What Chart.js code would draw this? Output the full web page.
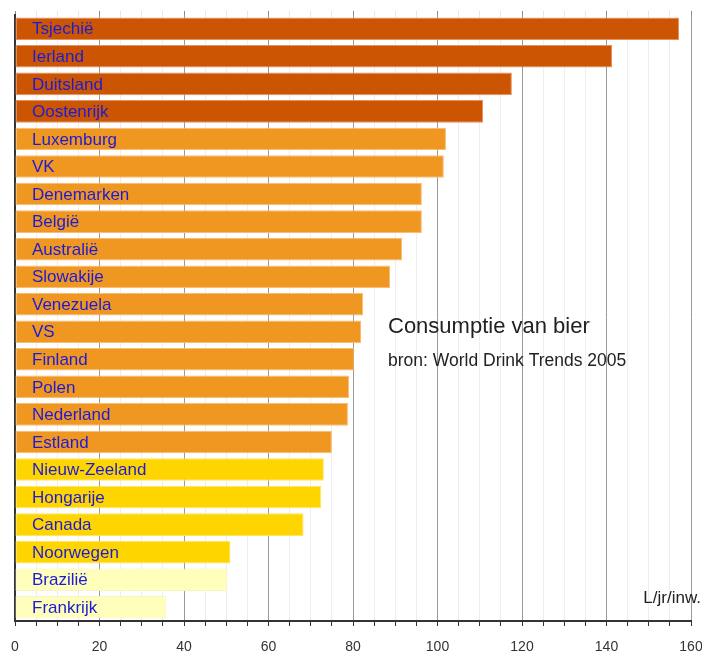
<!DOCTYPE html>
<html>
<head>
<meta charset="utf-8">
<script src="https://cdn.jsdelivr.net/npm/chart.js@4/dist/chart.umd.min.js"></script>
<style>
  html, body { margin: 0; padding: 0; background: #fff; }
  #wrap { width: 702px; height: 653px; position: relative; }
</style>
</head>
<body>
<div id="wrap"><canvas id="chart" width="702" height="653"></canvas></div>
<script>
// ── Data ──────────────────────────────────────────────
const countries = [
  'Tsjechië', 'Ierland', 'Duitsland', 'Oostenrijk', 'Luxemburg', 'VK',
  'Denemarken', 'België', 'Australië', 'Slowakije', 'Venezuela', 'VS',
  'Finland', 'Polen', 'Nederland', 'Estland', 'Nieuw-Zeeland', 'Hongarije',
  'Canada', 'Noorwegen', 'Brazilië', 'Frankrijk',
];
const litres = [
  157.2, 141.3, 117.6, 110.8, 102.0, 101.5,
  96.3, 96.3, 91.6, 88.8, 82.4, 81.9,
  80.3, 79.1, 78.8, 75.0, 73.1, 72.5,
  68.3, 51.0, 50.3, 35.8,
];
// colour group per country: 0 = top, 1 = high, 2 = mid, 3 = low
const groups = [0, 0, 0, 0, 1, 1, 1, 1, 1, 1, 1, 1, 1, 1, 1, 1, 2, 2, 2, 2, 3, 3];
const xTicks = [0, 20, 40, 60, 80, 100, 120, 140, 160];

const title = 'Consumptie van bier';
const source = 'bron: World Drink Trends 2005';
const unit = 'L/jr/inw.';

// ── Styling ───────────────────────────────────────────
const FONT = '"Liberation Sans", Arial, sans-serif';
const FILL = ['#cc5503', '#f09722', '#ffd500', '#ffffbb'];
const EDGE = ['#e2925e', '#f6bd74', '#ffe366', '#f4f4cc'];

const isMajor = v => xTicks.includes(v);

// labels inside the bars + the annotation text
const textPlugin = {
  id: 'beerText',
  afterDatasetsDraw(chart) {
    const { ctx, chartArea } = chart;
    const meta = chart.getDatasetMeta(0);
    ctx.save();
    ctx.font = '17px ' + FONT;
    ctx.fillStyle = '#1c1cd4';
    ctx.textBaseline = 'middle';
    ctx.textAlign = 'left';
    meta.data.forEach((bar, i) => {
      ctx.fillText(countries[i], chartArea.left + 17, bar.y + 1);
    });

    ctx.fillStyle = '#222';
    ctx.textBaseline = 'alphabetic';
    ctx.font = '22px ' + FONT;
    ctx.fillText(title, 388, 333);
    ctx.font = '17.5px ' + FONT;
    ctx.fillText(source, 388, 366);

    ctx.textAlign = 'right';
    ctx.font = '17px ' + FONT;
    ctx.fillText(unit, 701, 603);
    ctx.restore();
  },
};

new Chart(document.getElementById('chart'), {
  type: 'bar',
  data: {
    labels: countries,
    datasets: [{
      data: litres,
      backgroundColor: groups.map(g => FILL[g]),
      borderColor: groups.map(g => EDGE[g]),
      borderWidth: 1,
      borderSkipped: false,
      categoryPercentage: 1,
      barPercentage: 0.82,
    }],
  },
  options: {
    indexAxis: 'y',
    responsive: false,
    animation: false,
    layout: { padding: { left: 0, right: 11, top: 0, bottom: 0 } },
    plugins: { legend: { display: false }, tooltip: { enabled: false } },
    scales: {
      x: {
        position: 'bottom',
        min: 0,
        max: 160,
        afterFit: s => { s.height = 32; s.paddingRight = 0; s.paddingLeft = 0; },
        ticks: {
          stepSize: 5,
          autoSkip: false,
          maxRotation: 0,
          color: '#333',
          padding: 13,
          font: { family: FONT, size: 14 },
          callback: v => (isMajor(v) ? v : ''),
        },
        grid: {
          color: c => (isMajor(c.tick.value) ? '#9a9a9a' : '#eeeeee'),
          tickColor: '#333',
          tickLength: 5,
        },
        border: { color: '#333', width: 2 },
      },
      xTop: {
        position: 'top',
        min: 0,
        max: 160,
        afterFit: s => { s.height = 15; s.paddingRight = 0; s.paddingLeft = 0; },
        ticks: { display: false, stepSize: 5, autoSkip: false },
        grid: {
          drawOnChartArea: false,
          tickLength: 4,
          tickColor: c => (isMajor(c.tick.value) ? '#888' : '#e4e4e4'),
        },
        border: { display: false },
      },
      y: {
        afterFit: s => { s.width = 15; },
        ticks: { display: false },
        grid: { display: false },
        border: { color: '#333', width: 2 },
      },
    },
  },
  plugins: [textPlugin],
});
</script>
</body>
</html>
